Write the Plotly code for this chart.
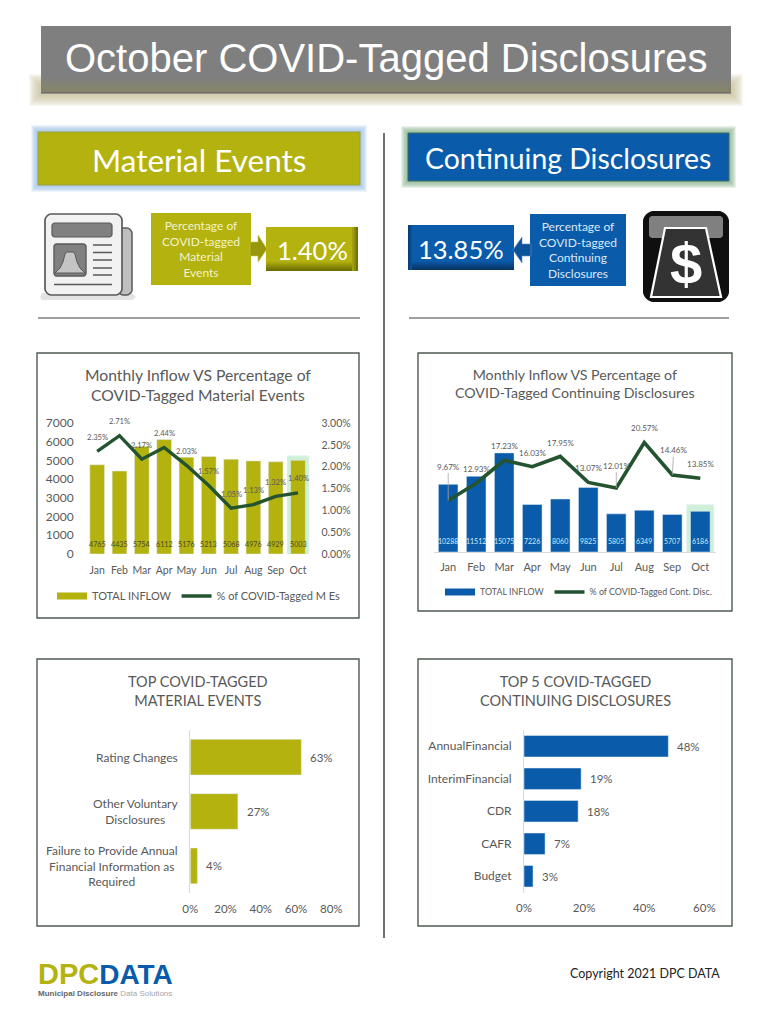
import plotly.graph_objects as go

FIG_W, FIG_H, OFF = 752, 1008, 8
W, H = FIG_W, FIG_H
months = ["Jan", "Feb", "Mar", "Apr", "May", "Jun", "Jul", "Aug", "Sep", "Oct"]
me_inflow = [4765, 4435, 5754, 6112, 5176, 5213, 5068, 4976, 4929, 5003]
me_pct = [2.35, 2.71, 2.17, 2.44, 2.03, 1.57, 1.05, 1.13, 1.32, 1.40]
cd_inflow = [10288, 11512, 15075, 7226, 8060, 9825, 5805, 6349, 5707, 6186]
cd_pct = [9.67, 12.93, 17.23, 16.03, 17.95, 13.07, 12.01, 20.57, 14.46, 13.85]
me_top_names = ["Rating Changes", "Other Voluntary<br>Disclosures",
                "Failure to Provide Annual<br>Financial Information as<br>Required"]
me_top_vals = [63, 27, 4]
cd_top_names = ["AnnualFinancial", "InterimFinancial", "CDR", "CAFR", "Budget"]
cd_top_vals = [48, 19, 18, 7, 3]

OLIVE = "#b3b20f"
BLUE = "#0a5cab"
DGREEN = "#23532f"
GRAY = "#595959"
BODY = "Lato, 'Open Sans', sans-serif"
HEAD = "'Liberation Sans', Arial, sans-serif"

fx = lambda x: (x - OFF) / W
fy = lambda y: 1 - (y - OFF) / H

shapes, ann = [], []


def rect(x0, y0, x1, y1, fill=None, line=None, lw=0, opacity=1, layer="below"):
    shapes.append(dict(type="rect", xref="paper", yref="paper", x0=fx(x0), x1=fx(x1), y0=fy(y1), y1=fy(y0),
                       fillcolor=fill if fill else "rgba(0,0,0,0)", opacity=opacity, layer=layer,
                       line=dict(color=line if line else "rgba(0,0,0,0)", width=lw)))


def hline(x0, y0, x1, y1, color, lw=1, layer="below"):
    shapes.append(dict(type="line", xref="paper", yref="paper", x0=fx(x0), x1=fx(x1), y0=fy(y0), y1=fy(y1),
                       layer=layer, line=dict(color=color, width=lw)))


def poly(pts, fill=None, line=None, lw=0, layer="above", closed=True, curve=False):
    if curve:
        p = "M%f,%f" % (fx(pts[0][0]), fy(pts[0][1]))
        for i in range(1, len(pts) - 2, 3):
            p += " C" + " ".join("%f,%f" % (fx(a), fy(b)) for a, b in pts[i:i + 3])
    else:
        p = "M" + " L".join("%f,%f" % (fx(a), fy(b)) for a, b in pts)
    if closed:
        p += " Z"
    shapes.append(dict(type="path", xref="paper", yref="paper", path=p, layer=layer,
                       fillcolor=fill if fill else "rgba(0,0,0,0)",
                       line=dict(color=line if line else "rgba(0,0,0,0)", width=lw)))


def rrect(x0, y0, x1, y1, r, **kw):
    k = 0.45 * r
    pts = [(x0 + r, y0), (x0 + r, y0), (x1 - r, y0), (x1 - r, y0),
           (x1 - r + k, y0), (x1, y0 + r - k), (x1, y0 + r),
           (x1, y0 + r), (x1, y1 - r), (x1, y1 - r),
           (x1, y1 - r + k), (x1 - r + k, y1), (x1 - r, y1),
           (x1 - r, y1), (x0 + r, y1), (x0 + r, y1),
           (x0 + r - k, y1), (x0, y1 - r + k), (x0, y1 - r),
           (x0, y1 - r), (x0, y0 + r), (x0, y0 + r),
           (x0, y0 + r - k), (x0 + r - k, y0), (x0 + r, y0)]
    poly(pts, curve=True, **kw)


def text(x, y, s, size, color=GRAY, font=BODY, anchor="center", align="center", **kw):
    ann.append(dict(xref="paper", yref="paper", x=fx(x), y=fy(y), text=s, showarrow=False, xanchor=anchor,
                    yanchor="middle", align=align, font=dict(size=size, color=color, family=font), **kw))


def glow(x0, y0, x1, y1, color, spread, steps=10, op=0.14):
    for i in range(steps, 0, -1):
        d = spread * i / steps
        rect(x0 - d, y0 - d, x1 + d, y1 + d, fill=color, opacity=op)


# ---- page header
glow(41, 86, 731, 94, "#c4bd94", 12, op=0.12)
rect(41, 26, 731, 93, fill="#7f7f7f")
for i, c in enumerate(["#80807c", "#81817a", "#828276", "#838372", "#84846e", "#85856c"]):
    rect(41, 78 + i * 2.4, 731, 93, fill=c)
hline(41, 93, 731, 93, "#5d5468", 1.2)
text(386, 58, "October COVID-Tagged Disclosures", 40, "#ffffff", HEAD)

# ---- section banners
glow(38, 132, 360, 185, "#9fc0ec", 7)
rect(38, 132, 360, 185, fill=OLIVE, line="#9aa23a", lw=1)
text(199, 160, "Material Events", 31.5, "#ffffff")
glow(408, 133, 729, 181, "#8ab08e", 7)
rect(408, 133, 729, 181, fill=BLUE, line="#3f6f60", lw=1)
text(568, 158, "Continuing Disclosures", 28.4, "#ffffff")
hline(384, 133, 384, 938, "#404040", 1.5)
hline(38, 318, 360, 318, "#404040", 1.2)
hline(409, 318, 729, 318, "#404040", 1.2)

# ---- KPI left
rect(151, 213, 251, 285, fill=OLIVE)
text(201, 249, "Percentage of<br>COVID-tagged<br>Material<br>Events", 12, "#f4f3c8")
poly([(250, 242), (258, 242), (258, 235), (267, 249), (258, 262), (258, 256), (250, 256)], fill="#97960c", line="#c9c83a", lw=0.6)
rect(266, 227, 358, 271, fill=OLIVE)
for i, c in enumerate(["#a8a70d", "#9a990b", "#8b8a09", "#7c7b07", "#6f6e06"]):
    rect(266, 262 + i * 1.8, 358, 271, fill=c)
for i, c in enumerate(["#a1a00c", "#8b8a09", "#727105"]):
    rect(352 + i * 2, 227, 358, 271, fill=c)
text(312, 250, "1.40%", 25.5, "#ffffff")

# ---- KPI right
rect(530, 214, 626, 286, fill=BLUE)
text(578, 250, "Percentage of<br>COVID-tagged<br>Continuing<br>Disclosures", 12, "#dbe8f5")
poly([(531, 244), (522, 244), (522, 237), (513, 250), (522, 263), (522, 256), (531, 256)], fill="#0a539a", line="#5b8fc4", lw=0.6)
rect(408, 225, 514, 270, fill=BLUE)
for i, c in enumerate(["#0a5199", "#0a4888", "#093f78", "#083668"]):
    rect(408, 262 + i * 2, 514, 270, fill=c)
for i, c in enumerate(["#0a4f96", "#093f78"]):
    rect(408, 225, 412 - i * 2, 270, fill=c)
text(461, 249, "13.85%", 25.5, "#ffffff")

# ---- newspaper icon
poly([(40, 297), (42, 293), (132, 293), (136, 297), (132, 300), (42, 300)], fill="#e3e3e3", layer="below")
rrect(118, 228, 132, 295, 5, fill="#bfbfbf", line="#595959", lw=1.5)
rrect(45, 214, 122, 295, 6, fill="#f2f2f2", line="#595959", lw=1.7)
rrect(52, 223, 112, 237, 2.5, fill="#808080", line="#595959", lw=1.2)
rrect(54, 244, 86, 276, 2.5, fill="#808080", line="#595959", lw=1.4)
poly([(55, 273), (60, 268), (63, 262), (65, 254), (67, 252), (73, 252), (75, 254), (77, 262), (80, 268), (85, 273)],
     fill="#c4c4c4", line="#595959", lw=1)
for y in [245, 252.5, 260, 268, 275]:
    hline(93, y, 112, y, "#595959", 1.5, layer="above")
hline(54, 284.5, 112, 284.5, "#595959", 1.5, layer="above")

# ---- cash icon
rrect(643, 211, 729, 302, 10, fill="#0f0f0f")
rrect(649, 216, 723, 238, 3, fill="#808080")
poly([(665, 228), (706, 228), (721, 297), (651, 297)], fill="#333333", line="#ffffff", lw=2.2)
text(686, 263, "<b>$</b>", 58, "#ffffff", HEAD)

# ---- chart cards
for x0, y0, x1, y1 in [(37, 353, 359, 618), (418, 353, 732, 611), (37, 659, 359, 926), (418, 659, 732, 926)]:
    rect(x0, y0, x1, y1, fill="#ffffff", line="#4f5a52", lw=1.4)

text(198, 385, "Monthly Inflow VS Percentage of<br>COVID-Tagged Material Events", 15.7, GRAY, font=BODY)
text(575, 383, "Monthly Inflow VS Percentage of<br>COVID-Tagged Continuing Disclosures", 14.2, GRAY, font=BODY)
text(198, 691, "TOP COVID-TAGGED<br>MATERIAL EVENTS", 14.5, GRAY)
text(575, 691, "TOP 5 COVID-TAGGED<br>CONTINUING DISCLOSURES", 14.5, GRAY)

# ---- footer
text(36, 978,
     "<b><span style='font-size:29px;color:%s'>DPC</span><span style='font-size:28px;color:%s'>DATA</span></b><br>"
     "<span style='font-size:8px'><b>Municipal Disclosure</b> <span style='color:#a6a6a6'>Data Solutions</span></span>"
     % (OLIVE, BLUE),
     9, "#666666", HEAD, anchor="left", align="left")
text(645, 973, "Copyright 2021 DPC DATA", 12.5, "#222222")

# ---- plots
fig = go.Figure()
# chart 1
fig.add_trace(go.Bar(x=months, y=me_inflow, xaxis="x", yaxis="y", marker_color=OLIVE, width=0.66, showlegend=False))
fig.add_trace(go.Scatter(x=[None], y=[None], xaxis="x", yaxis="y", mode="lines", name="TOTAL INFLOW",
                         line=dict(color=OLIVE, width=7), legend="legend"))
fig.add_trace(go.Scatter(x=months, y=me_pct, xaxis="x", yaxis="y2", mode="lines", name="% of COVID-Tagged M Es",
                         line=dict(color=DGREEN, width=3.4, shape="linear"), legend="legend"))
# chart 2
fig.add_trace(go.Bar(x=months, y=cd_inflow, xaxis="x2", yaxis="y3", marker_color=BLUE, width=0.7, showlegend=False))
fig.add_trace(go.Scatter(x=[None], y=[None], xaxis="x2", yaxis="y3", mode="lines", name="TOTAL INFLOW",
                         line=dict(color=BLUE, width=7), legend="legend2"))
fig.add_trace(go.Scatter(x=months, y=cd_pct, xaxis="x2", yaxis="y4", mode="lines", name="% of COVID-Tagged Cont. Disc.",
                         line=dict(color=DGREEN, width=3.6), legend="legend2"))
# chart 3, 4
fig.add_trace(go.Bar(y=me_top_names, x=me_top_vals, orientation="h", xaxis="x3", yaxis="y5", marker_color=OLIVE,
                     width=0.656, showlegend=False))
fig.add_trace(go.Bar(y=cd_top_names, x=cd_top_vals, orientation="h", xaxis="x4", yaxis="y6", marker_color=BLUE,
                     width=0.66, showlegend=False))

for i, m in enumerate(months):
    ann.append(dict(xref="x", yref="y", x=m, y=0, yshift=10, text=str(me_inflow[i]), showarrow=False,
                    font=dict(size=7.2, color="#4a4a2a", family=BODY)))
    ann.append(dict(xref="x", yref="y2", x=m, y=me_pct[i], yshift=14.5, text="%.2f%%" % me_pct[i], showarrow=False,
                    font=dict(size=7.6, color="#595959", family=BODY)))
    ann.append(dict(xref="x2", yref="y3", x=m, y=0, yshift=11, text=str(cd_inflow[i]), showarrow=False,
                    font=dict(size=7, color="#dbe8f5", family=BODY)))

cd_dx = [0, 0, 0, 0, 0, 0, 0, 0, 1.5, 0]
cd_dy = [34, 14.5, 14, 13.5, 13.5, 14.5, 22.5, 14, 25, 14.5]
cd_lead = [True, False, False, False, False, False, True, False, True, False]
for i, m in enumerate(months):
    d = dict(xref="x2", yref="y4", x=m, y=cd_pct[i], text="%.2f%%" % cd_pct[i],
             font=dict(size=8, color="#595959", family=BODY))
    if cd_lead[i]:
        d.update(showarrow=True, arrowhead=0, arrowwidth=0.8, arrowcolor="#a6a6a6", ax=cd_dx[i], ay=-cd_dy[i])
    else:
        d.update(showarrow=False, xshift=cd_dx[i], yshift=cd_dy[i])
    ann.append(d)

for n, v in zip(me_top_names, me_top_vals):
    ann.append(dict(xref="x3", yref="y5", x=v, y=n, xshift=7, xanchor="left", text="%d%%" % v, showarrow=False,
                    font=dict(size=11.5, color=GRAY, family=BODY)))
    ann.append(dict(xref="paper", yref="y5", x=fx(180), y=n, xanchor="right", align="center", text=n, showarrow=False,
                    font=dict(size=12, color=GRAY, family=BODY)))
for n, v in zip(cd_top_names, cd_top_vals):
    ann.append(dict(xref="x4", yref="y6", x=v, y=n, xshift=7, xanchor="left", text="%d%%" % v, showarrow=False,
                    font=dict(size=11.5, color=GRAY, family=BODY)))

# Oct highlights (drawn in axis units, behind the bars)
for d, op in [(1.0, 0.35), (0.6, 0.45), (0.2, 0.6)]:
    shapes.append(dict(type="rect", xref="x", yref="y", layer="below", x0=8.5 + 0.04 * (1 - d), x1=9.5 - 0.04 * (1 - d),
                       y0=-40, y1=5290 - 120 * (1 - d), fillcolor="#c6ecd2", opacity=op, line_width=0))
    shapes.append(dict(type="rect", xref="x2", yref="y3", layer="below", x0=8.5 + 0.04 * (1 - d), x1=9.5 - 0.04 * (1 - d),
                       y0=0, y1=7300 - 300 * (1 - d), fillcolor="#c6ecd2", opacity=op, line_width=0))

tf = dict(size=12, color=GRAY, family=BODY)
tm1 = dict(size=10.5, color=GRAY, family=BODY)
tm2 = dict(size=11, color=GRAY, family=BODY)
tf2 = dict(size=11.5, color=GRAY, family=BODY)
tc = dict(size=12, color=GRAY, family=BODY)


def dx(a, b):
    return [fx(a), fx(b)]


def dy(top, bot):
    return [fy(bot), fy(top)]


legend_common = dict(orientation="h", bgcolor="rgba(0,0,0,0)", xanchor="left", yanchor="middle", itemwidth=30,
                     traceorder="normal", itemclick=False, itemdoubleclick=False)

fig.update_layout(
    width=FIG_W, height=FIG_H, margin=dict(l=0, r=0, t=0, b=0, autoexpand=False), paper_bgcolor="#ffffff",
    plot_bgcolor="rgba(0,0,0,0)", shapes=shapes, annotations=ann, bargap=0.34, hovermode=False,
    xaxis=dict(domain=dx(84.7, 310.5), anchor="y", type="category", categoryorder="array", categoryarray=months,
               tickfont=tm1, ticklen=0, tickangle=0, showgrid=False, showline=False, zeroline=False, ticklabelstandoff=8),
    yaxis=dict(domain=dy(423, 554), anchor="x", range=[0, 7000], dtick=1000, tickfont=tf, showgrid=False,
               zeroline=False, ticklen=0, ticklabelstandoff=10),
    yaxis2=dict(domain=dy(423, 554), anchor="x", overlaying="y", side="right", range=[0, 3], dtick=0.5,
                ticksuffix="%", tickformat=".2f", tickfont=dict(size=10.5, color=GRAY, family=BODY), showgrid=False,
                zeroline=False, ticklen=0, ticklabelstandoff=10),
    xaxis2=dict(domain=dx(434.2, 715.8), anchor="y3", type="category", categoryorder="array", categoryarray=months,
                tickfont=tm2, ticklen=0, tickangle=0, showgrid=False, showline=True, linecolor="#d9d9d9", zeroline=False,
                ticklabelstandoff=5),
    yaxis3=dict(domain=dy(420.5, 552), anchor="x2", range=[0, 20000], visible=False),
    yaxis4=dict(domain=dy(420.5, 552), anchor="x2", overlaying="y3", range=[0, 24.7], visible=False),
    xaxis3=dict(domain=dx(190.3, 331.3), anchor="y5", range=[0, 80], dtick=20, ticksuffix="%", tickfont=tf2, ticklen=0,
                showgrid=False, zeroline=False, ticklabelstandoff=7),
    yaxis5=dict(domain=dy(730, 893), anchor="x3", type="category", autorange="reversed", showticklabels=False,
                showgrid=False, ticklen=0, showline=True, linecolor="#d9d9d9", zeroline=False,
                categoryorder="array", categoryarray=me_top_names),
    xaxis4=dict(domain=dx(524, 704.4), anchor="y6", range=[0, 60], dtick=20, ticksuffix="%", tickfont=tf2, ticklen=0,
                showgrid=False, zeroline=False, ticklabelstandoff=7),
    yaxis6=dict(domain=dy(730, 892.5), anchor="x4", type="category", autorange="reversed", tickfont=tc,
                showgrid=False, ticklen=0, showline=True, linecolor="#d9d9d9", zeroline=False, ticklabelstandoff=9,
                categoryorder="array", categoryarray=cd_top_names),
    legend=dict(x=fx(52), y=fy(596), font=dict(size=11, color=GRAY, family=BODY), **legend_common),
    legend2=dict(x=fx(440), y=fy(592), font=dict(size=8.9, color=GRAY, family=BODY), **legend_common),
)

fig.write_html("out.html", config=dict(displayModeBar=False))
